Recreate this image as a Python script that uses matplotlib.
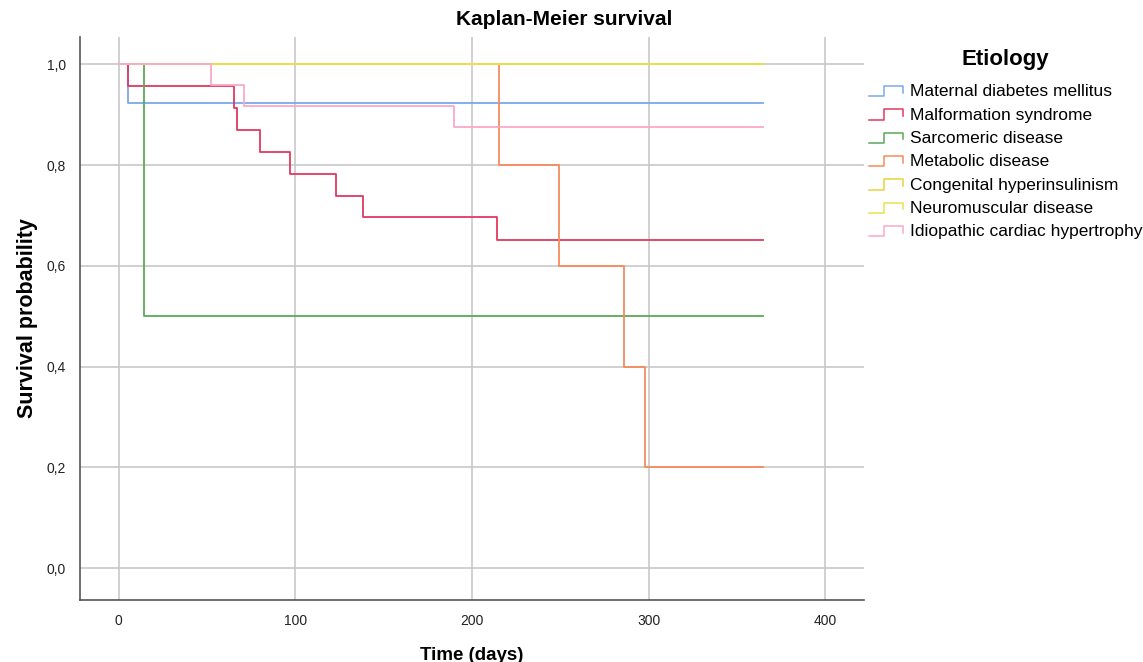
import numpy as np
import matplotlib
matplotlib.use("Agg")
import matplotlib.pyplot as plt
from matplotlib.lines import Line2D
from matplotlib.legend_handler import HandlerBase

plt.rcParams['font.family'] = ['Liberation Sans', 'DejaVu Sans']

# Kaplan-Meier step data (time in days, survival after each event)
groups = ['Maternal diabetes mellitus', 'Malformation syndrome', 'Sarcomeric disease',
          'Metabolic disease', 'Congenital hyperinsulinism', 'Neuromuscular disease',
          'Idiopathic cardiac hypertrophy']
colors = ['#78a9ee', '#e0395f', '#5aa85c', '#f68b5c', '#e6d23e', '#ece04e', '#f9a9c8']

t_maternal = [0, 5, 365]
s_maternal = [1.0, 0.923, 0.923]
t_malform = [0, 5, 65, 67, 80, 97, 123, 138, 214, 365]
s_malform = [1.0, 0.957, 0.913, 0.870, 0.826, 0.783, 0.739, 0.696, 0.652, 0.652]
t_sarco = [0, 14, 365]
s_sarco = [1.0, 0.5, 0.5]
t_metab = [0, 215, 249, 286, 298, 365]
s_metab = [1.0, 0.8, 0.6, 0.4, 0.2, 0.2]
t_hyper = [0, 365]
s_hyper = [1.0, 1.0]
t_neuro = [0, 365]
s_neuro = [1.0, 1.0]
t_idio = [0, 52, 71, 190, 365]
s_idio = [1.0, 0.958, 0.917, 0.875, 0.875]

times = [t_maternal, t_malform, t_sarco, t_metab, t_hyper, t_neuro, t_idio]
survs = [s_maternal, s_malform, s_sarco, s_metab, s_hyper, s_neuro, s_idio]


class StepHandler(HandlerBase):
    # draw a little step symbol in the legend like SPSS does
    def create_artists(self, legend, orig_handle, xdescent, ydescent,
                       width, height, fontsize, trans):
        x0 = -xdescent
        y0 = -ydescent
        xs = [x0, x0 + width * 0.45, x0 + width * 0.45, x0 + width, x0 + width]
        ys = [y0 + height * 0.0, y0 + height * 0.0, y0 + height * 0.85,
              y0 + height * 0.85, y0 + height * 0.3]
        ln = Line2D(xs, ys, color=orig_handle.get_color(), lw=1.1, transform=trans)
        return [ln]


fig = plt.figure(figsize=(11.43, 6.62), dpi=100)
ax = fig.add_axes([0.070, 0.094, 0.686, 0.850])

handles = []
for name, c, t, s in zip(groups, colors, times, survs):
    h, = ax.step(t, s, where='post', color=c, lw=1.3, label=name)
    handles.append(h)

ax.set_xlim(-22, 422)
ax.set_ylim(-0.063, 1.054)
ax.set_xticks([0, 100, 200, 300, 400])
ax.set_yticks([0.0, 0.2, 0.4, 0.6, 0.8, 1.0])
ax.set_yticklabels(['0,0', '0,2', '0,4', '0,6', '0,8', '1,0'])
ax.grid(True, color='#c8c8c8', lw=1.2)
ax.set_axisbelow(True)
for sp in ['top', 'right']:
    ax.spines[sp].set_visible(False)
for sp in ['left', 'bottom']:
    ax.spines[sp].set_color('#555555')
    ax.spines[sp].set_linewidth(1.2)
ax.tick_params(length=0, labelsize=10, colors='#222222', pad=10)

ax.set_xlabel('Time (days)', fontsize=13.5, fontweight='bold', labelpad=14)
ax.set_ylabel('Survival probability', fontsize=15.5, fontweight='bold', labelpad=6)
fig.text(0.494, 0.970, 'Kaplan-Meier survival', ha='center', va='center',
         fontsize=15, fontweight='bold')

leg = fig.legend(handles=handles, labels=groups, loc='upper left',
                 bbox_to_anchor=(0.754, 0.936), frameon=False, fontsize=12.5,
                 title='Etiology', title_fontproperties={'weight': 'bold', 'size': 16},
                 handler_map={Line2D: StepHandler()}, handlelength=2.0,
                 handletextpad=0.35, labelspacing=0.47, borderaxespad=0.0)
leg._legend_box.sep = 10

fig.savefig('out.png', dpi=100)
